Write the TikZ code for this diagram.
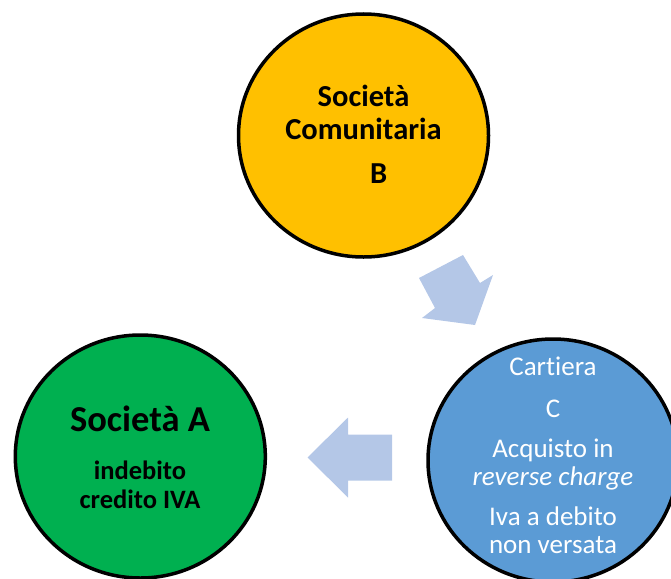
\documentclass[tikz,border=0pt]{standalone}
\usepackage{fontspec}
\setmainfont{Carlito}[RawFeature=-liga]
\usepackage{xcolor}
\usetikzlibrary{shapes.geometric}
\definecolor{socYellow}{RGB}{255,192,0}
\definecolor{socGreen}{RGB}{0,176,80}
\definecolor{socBlue}{RGB}{91,155,213}
\definecolor{flowBlue}{RGB}{180,199,231}
\tikzset{%
  soc/.style={ellipse, draw=black, line width=3.5pt, inner sep=0pt, minimum width=250pt, minimum height=243pt},
  soctext/.style={align=center, inner sep=0pt},
  flow/.style={fill=flowBlue}
}

\begin{document}
\begin{tikzpicture}[x=1pt,y=-1pt]
\useasboundingbox (0,0) rectangle (671,578);
\clip (0,0) rectangle (671,578);
\node[soc, fill=socYellow] (socB) at (363.5,135.5) {};
\node[soc, fill=socGreen] (socA) at (140.3,456.5) {};
\node[soc, fill=socBlue] (cartC) at (553,460.5) {};
% frecce
\fill[flow] (419,278) -- (463,255) -- (480,283) -- (493,275) -- (475,325) -- (422,318) -- (435,308) -- cycle;
\fill[flow] (307.5,457.5) -- (348,417.5) -- (348,434.5) -- (392,434.5) -- (392,480.5) -- (348,480.5) -- (348,497.5) -- cycle;
% testi
\node[soctext, font=\bfseries\fontsize{30.5}{33}\selectfont] (socBtxt) at (363.5,134.3) {Società\\Comunitaria\\[11pt]\hspace*{1em}B};
\node[soctext, font=\bfseries\fontsize{26.5}{29}\selectfont] (socAtxt) at (140,457) {{\fontsize{36.5}{40}\selectfont Società A}\\[19pt]indebito\\credito IVA};
\node[soctext, text=white, font=\fontsize{27}{28}\selectfont] (cartCtxt) at (553,455.5) {Cart\kern0pt iera\\[14pt]C\\[12pt]Acquisto in\\\textit{reverse charge}\\[12pt]Iva a debito\\non versata};
\end{tikzpicture}
\end{document}
